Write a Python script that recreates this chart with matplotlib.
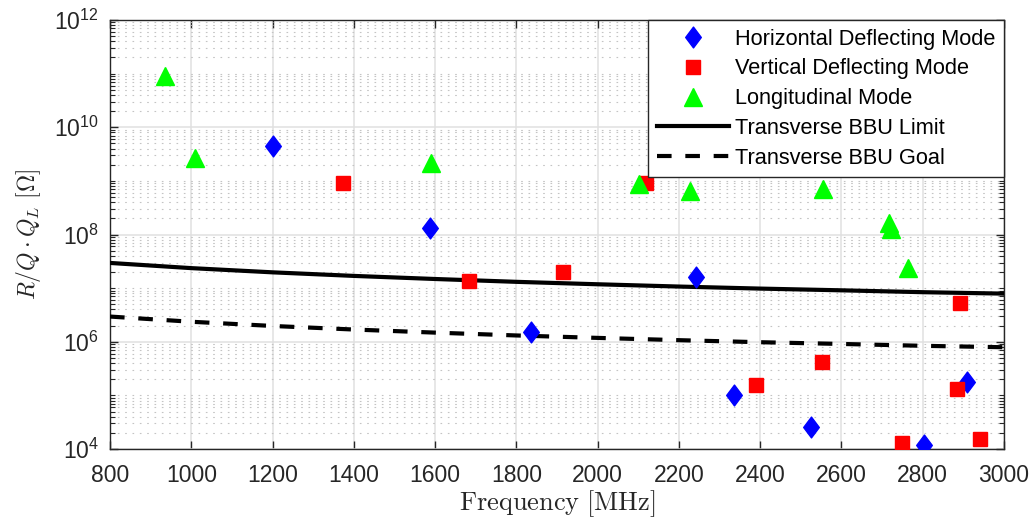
import matplotlib
matplotlib.use("Agg")
import matplotlib.pyplot as plt
from matplotlib.path import Path
from matplotlib.ticker import FixedLocator, NullFormatter

plt.rcParams['font.family'] = ['Liberation Sans', 'DejaVu Sans']
plt.rcParams['mathtext.fontset'] = 'cm'

# ---- data ----
horiz_freq = [1200, 1587, 1836, 2243, 2336, 2526, 2802, 2910]
horiz_rq = [4.5e9, 1.33e8, 1.5e6, 1.63e7, 1.02e5, 2.6e4, 1.18e4, 1.74e5]

vert_freq = [1374, 1683, 1915, 2120, 2389, 2552, 2748, 2892, 2885, 2941]
vert_rq = [9.3e8, 1.35e7, 2.0e7, 9.2e8, 1.53e5, 4.2e5, 1.3e4, 5.2e6, 1.29e5, 1.55e4]

long_freq = [935, 1008, 1589, 2103, 2227, 2554, 2716, 2722, 2765]
long_rq = [9.0e10, 2.7e9, 2.2e9, 8.7e8, 6.4e8, 7.1e8, 1.66e8, 1.24e8, 2.4e7]

bbu_freq = [800, 1000, 1200, 1400, 1600, 1800, 2000, 2200, 2400, 2600, 2800, 3000]
bbu_limit = [2.95e7, 2.36e7, 1.97e7, 1.69e7, 1.48e7, 1.31e7, 1.18e7, 1.07e7,
             9.8e6, 9.1e6, 8.4e6, 7.9e6]
bbu_goal = [2.95e6, 2.36e6, 1.97e6, 1.69e6, 1.48e6, 1.31e6, 1.18e6, 1.07e6,
            9.8e5, 9.1e5, 8.4e5, 7.9e5]

x_ticks = [800, 1000, 1200, 1400, 1600, 1800, 2000, 2200, 2400, 2600, 2800, 3000]
y_ticks = [1e4, 1e6, 1e8, 1e10, 1e12]
y_tick_labels = [r'$\mathregular{10^{4}}$', r'$\mathregular{10^{6}}$', r'$\mathregular{10^{8}}$',
                 r'$\mathregular{10^{10}}$', r'$\mathregular{10^{12}}$']

labels = ['Horizontal Deflecting Mode', 'Vertical Deflecting Mode', 'Longitudinal Mode',
          'Transverse BBU Limit', 'Transverse BBU Goal']

# MATLAB-like diamond
diamond = Path([(0, 1), (0.75, 0), (0, -1), (-0.75, 0), (0, 1)],
               [Path.MOVETO, Path.LINETO, Path.LINETO, Path.LINETO, Path.CLOSEPOLY])

fig = plt.figure(figsize=(10.36, 5.21), dpi=100)
ax = fig.add_axes([0.1062, 0.1382, 0.8629, 0.8234])

axcol = '#262626'
ax.plot(horiz_freq, horiz_rq, linestyle='none', marker=diamond, ms=15,
        color='#0000ff', label=labels[0], zorder=4)
ax.plot(vert_freq, vert_rq, linestyle='none', marker='s', ms=9.5,
        color='#ff0000', label=labels[1], zorder=4)
ax.plot(long_freq, long_rq, linestyle='none', marker='^', ms=13,
        color='#00ff00', label=labels[2], zorder=4)
ax.plot(bbu_freq, bbu_limit, color='black', lw=3, label=labels[3], zorder=3)
ax.plot(bbu_freq, bbu_goal, color='black', lw=3, ls=(0, (3.5, 3.3)),
        label=labels[4], zorder=3)

ax.set_yscale('log')
ax.set_xlim(800, 3000)
ax.set_ylim(1e4, 1e12)
ax.set_xticks(x_ticks)
ax.set_xticklabels([str(t) for t in x_ticks])
ax.yaxis.set_major_locator(FixedLocator(y_ticks))
ax.set_yticklabels(y_tick_labels)
ax.xaxis.set_minor_locator(FixedLocator([]))
ax.yaxis.set_minor_locator(FixedLocator(
    [m * 10.0 ** e for e in range(4, 12) for m in range(1, 10) if not (m == 1 and e % 2 == 0)]))
ax.yaxis.set_minor_formatter(NullFormatter())

ax.grid(True, which='major', color='#e0e0e0', lw=1.1, ls='-', zorder=0)
ax.grid(True, which='minor', axis='y', color='#c4c4c4', lw=0.8, ls=(0, (1.5, 5.1)), zorder=0)
ax.set_axisbelow(True)

ax.tick_params(axis='both', which='major', direction='in', length=6, width=1,
               top=True, right=True, labelsize=16.5, colors=axcol)
ax.tick_params(axis='x', which='major', pad=10.5)
ax.tick_params(axis='y', which='major', pad=8)
ax.tick_params(axis='y', which='minor', direction='in', length=3.5, width=0.8,
               left=True, right=True, colors=axcol)
for sp in ax.spines.values():
    sp.set_color(axcol)
    sp.set_linewidth(1)

ax.set_xlabel(r'$\mathrm{Frequency\ [MHz]}$', fontsize=19, color=axcol, labelpad=1)
ax.set_ylabel(r'$R/Q \cdot Q_L\ [\Omega]$', fontsize=17, color=axcol, labelpad=8)

leg = ax.legend(loc='upper right', fontsize=15.7, frameon=True, fancybox=False,
                edgecolor=axcol, framealpha=1, borderaxespad=0, handlelength=3.3,
                handletextpad=0.28, labelspacing=0.4, borderpad=0.4)
leg.get_frame().set_linewidth(1)
leg.set_zorder(10)

fig.savefig('out.png', dpi=100, facecolor='white')
